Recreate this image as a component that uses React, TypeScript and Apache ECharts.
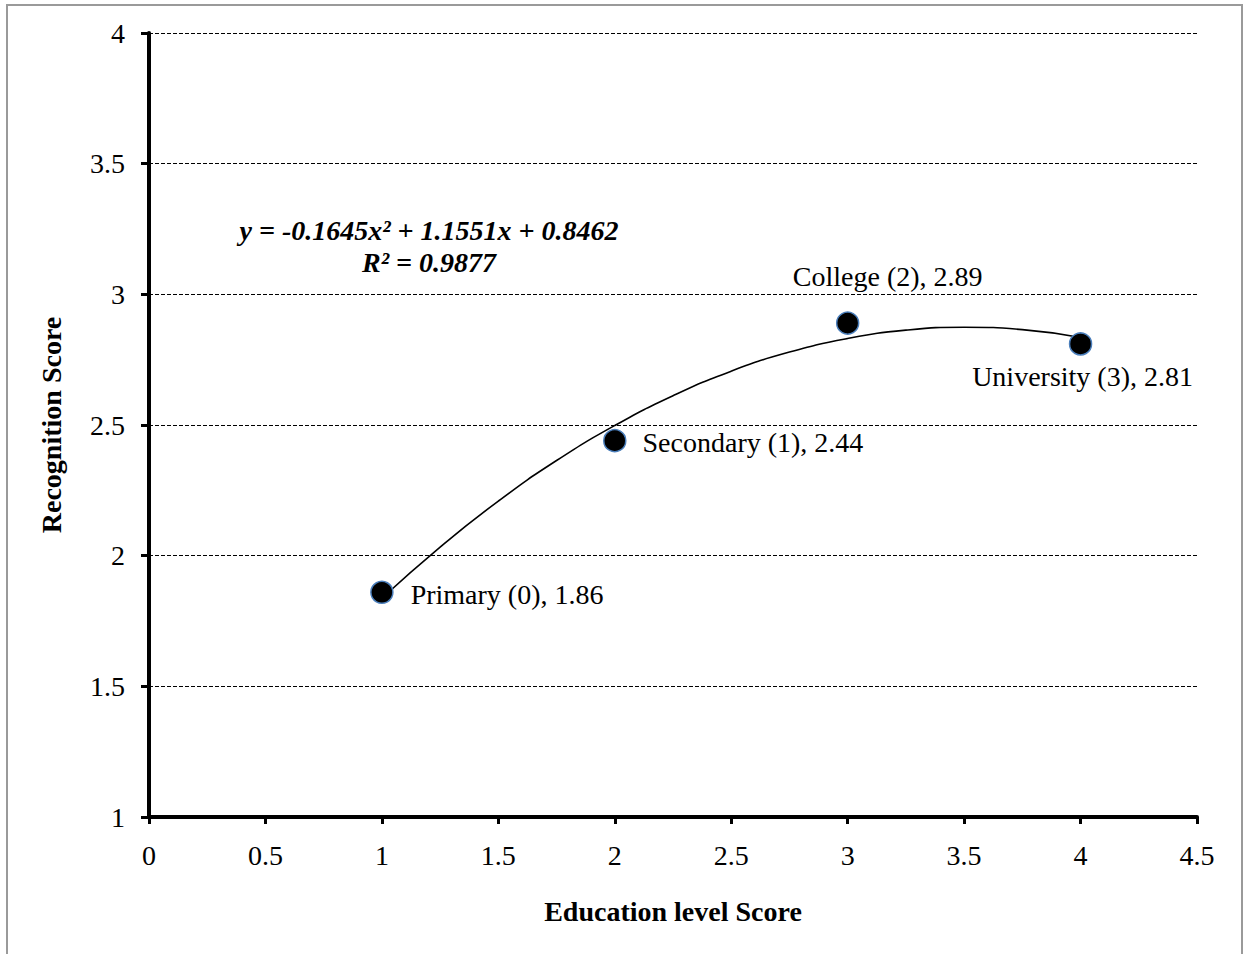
import React, { useEffect, useRef } from "react";
import * as echarts from "echarts";

const levelNames = ["Primary (0)", "Secondary (1)", "College (2)", "University (3)"];
const levelX = [1, 2, 3, 4];
const recognition = [1.86, 2.44, 2.89, 2.81];

// trendline values
const trendX = [1, 1.25, 1.5, 1.75, 2, 2.25, 2.5, 2.75, 3, 3.25, 3.5, 3.75, 4];
const trendY = [1.837, 2.033, 2.209, 2.364, 2.498, 2.612, 2.706, 2.779, 2.831, 2.863, 2.874, 2.865, 2.835];

const equationText = "y = -0.1645x² + 1.1551x + 0.8462";
const r2Text = "R² = 0.9877";

const FONT = "'Liberation Serif', 'Times New Roman', serif";

export default function App() {
  const ref = useRef<HTMLDivElement>(null);
  useEffect(() => {
    if (!ref.current) return;
    const chart = echarts.init(ref.current, undefined, { renderer: "svg" });
    const labelCfg = [
      { position: "right", distance: 17, offset: [0, 2] },
      { position: "right", distance: 16, offset: [0, 2] },
      { position: "top", distance: 21, offset: [40, 0] },
      { position: "bottom", distance: 7, offset: [2, 0] },
    ];
    chart.setOption({
      animation: false,
      backgroundColor: "#ffffff",
      textStyle: { fontFamily: FONT },
      grid: { left: 149, right: 48, top: 33, bottom: 137, containLabel: false },
      xAxis: {
        type: "value",
        min: 0,
        max: 4.5,
        interval: 0.5,
        name: "Education level Score",
        nameLocation: "middle",
        nameGap: 80,
        nameTextStyle: { fontFamily: FONT, fontSize: 28, fontWeight: "bold", color: "#000" },
        axisLine: { show: true, onZero: false, lineStyle: { color: "#000", width: 4 } },
        axisTick: { show: true, inside: false, length: 7, lineStyle: { color: "#000", width: 3 } },
        axisLabel: { fontFamily: FONT, fontSize: 28, color: "#000", margin: 24 },
        splitLine: { show: false },
      },
      yAxis: {
        type: "value",
        min: 1,
        max: 4,
        interval: 0.5,
        name: "Recognition Score",
        nameLocation: "middle",
        nameGap: 84,
        nameRotate: 90,
        nameTextStyle: { fontFamily: FONT, fontSize: 28, fontWeight: "bold", color: "#000" },
        axisLine: { show: true, onZero: false, lineStyle: { color: "#000", width: 4 } },
        axisTick: { show: true, inside: false, length: 8, lineStyle: { color: "#000", width: 3 } },
        axisLabel: { fontFamily: FONT, fontSize: 28, color: "#000", margin: 24 },
        splitLine: { show: true, lineStyle: { color: "#000", width: 1.2, type: [4, 2] } },
      },
      series: [
        {
          type: "line",
          data: trendX.map((x, i) => [x, trendY[i]]),
          smooth: true,
          showSymbol: false,
          lineStyle: { color: "#000", width: 1.6 },
          z: 2,
          silent: true,
        },
        {
          type: "scatter",
          symbol: "circle",
          symbolSize: 22,
          z: 3,
          itemStyle: { color: "#000", opacity: 1, borderColor: "#4a7ebb", borderWidth: 1.5 },
          data: levelX.map((x, i) => ({
            value: [x, recognition[i]],
            name: levelNames[i],
            label: {
              show: true,
              position: labelCfg[i].position,
              distance: labelCfg[i].distance,
              offset: labelCfg[i].offset,
              formatter: levelNames[i] + ", " + recognition[i].toFixed(2),
              fontFamily: FONT,
              fontSize: 28,
              color: "#000",
            },
          })),
        },
      ],
      graphic: [
        {
          type: "rect",
          shape: { x: 7, y: 5, width: 1235, height: 970 },
          style: { fill: "none", stroke: "#9a9a9a", lineWidth: 2 },
          silent: true,
        },
        {
          type: "text",
          x: 429,
          y: 230,
          style: {
            text: equationText,
            fontFamily: FONT,
            fontSize: 28,
            fontWeight: "bold",
            fontStyle: "italic",
            fill: "#000",
            textAlign: "center",
            textVerticalAlign: "middle",
          },
        },
        {
          type: "text",
          x: 429,
          y: 262,
          style: {
            text: r2Text,
            fontFamily: FONT,
            fontSize: 28,
            fontWeight: "bold",
            fontStyle: "italic",
            fill: "#000",
            textAlign: "center",
            textVerticalAlign: "middle",
          },
        },
      ],
    });
    return () => chart.dispose();
  }, []);
  return (
    <div
      ref={ref}
      style={{ position: "absolute", left: 0, top: 0, width: 1245, height: 954 }}
    />
  );
}
